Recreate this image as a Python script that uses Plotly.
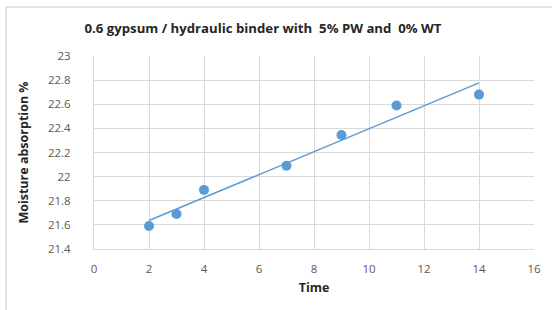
import numpy as np
import plotly.graph_objects as go

time = [2, 3, 4, 7, 9, 11, 14]
moisture = [21.59, 21.69, 21.89, 22.09, 22.345, 22.59, 22.68]
x_ticks = [0, 2, 4, 6, 8, 10, 12, 14, 16]
y_ticks = [21.4, 21.6, 21.8, 22, 22.2, 22.4, 22.6, 22.8, 23]
y_tick_text = ["21.4", "21.6", "21.8", "22", "22.2", "22.4", "22.6", "22.8", "23"]

blue = "#5B9BD5"
grid = "#D9D9D9"
font = "Open Sans"

slope, intercept = np.polyfit(time, moisture, 1)
tx = [min(time), max(time)]
ty = [slope * v + intercept for v in tx]

fig = go.Figure()
fig.add_trace(go.Scatter(x=tx, y=ty, mode="lines", line=dict(color=blue, width=1.5),
                         hoverinfo="skip", showlegend=False))
fig.add_trace(go.Scatter(x=time, y=moisture, mode="markers",
                         marker=dict(color=blue, size=10, line=dict(width=0)),
                         showlegend=False))

W, H = 552, 310
L, R, T, B = 94, 18, 56, 61
pw, ph = W - L - R, H - T - B

def px_x(p):
    return (p - L) / pw

def px_y(p):
    return (H - B - p) / ph

# chart border (top and left edges visible in the crop)
fig.add_shape(type="line", xref="paper", yref="paper",
              x0=px_x(6), x1=px_x(W), y0=px_y(7), y1=px_y(7),
              line=dict(color=grid, width=1.5), layer="below")
fig.add_shape(type="line", xref="paper", yref="paper",
              x0=px_x(6), x1=px_x(6), y0=px_y(7), y1=px_y(H),
              line=dict(color=grid, width=1.5), layer="below")

fig.update_layout(
    width=W, height=H,
    margin=dict(l=L, r=R, t=T, b=B, autoexpand=False),
    paper_bgcolor="white", plot_bgcolor="white",
    font=dict(family=font, size=11, color="#595959"),
    title=dict(text="<b>0.6 gypsum / hydraulic binder with  5% PW and  0% WT</b>",
               x=263 / W, xanchor="center", y=1 - 28 / H, yanchor="middle",
               font=dict(family=font, size=13.2, color="#262626")),
    xaxis=dict(range=[0, 16], tickvals=x_ticks, showgrid=True, gridcolor=grid, gridwidth=1,
               showline=True, linecolor=grid, zeroline=False, ticks="", automargin=False,
               ticklabelstandoff=9,
               tickfont=dict(size=11.5, color="#595959"),
               title=dict(text="<b>Time</b>", standoff=8,
                          font=dict(family=font, size=12.5, color="#262626"))),
    yaxis=dict(range=[21.4, 23], tickvals=y_ticks, ticktext=y_tick_text,
               showgrid=True, gridcolor=grid, gridwidth=1,
               showline=True, linecolor=grid, zeroline=False, ticks="", automargin=False,
               ticklabelstandoff=20,
               tickfont=dict(size=11.5, color="#595959"),
               title=dict(text="<b>Moisture absorption %</b>", standoff=16,
                          font=dict(family=font, size=12.5, color="#262626"))),
)

fig.write_html("out.html", config={"displayModeBar": False},
               post_script="document.body.style.margin='0';document.body.style.overflow='hidden';")
